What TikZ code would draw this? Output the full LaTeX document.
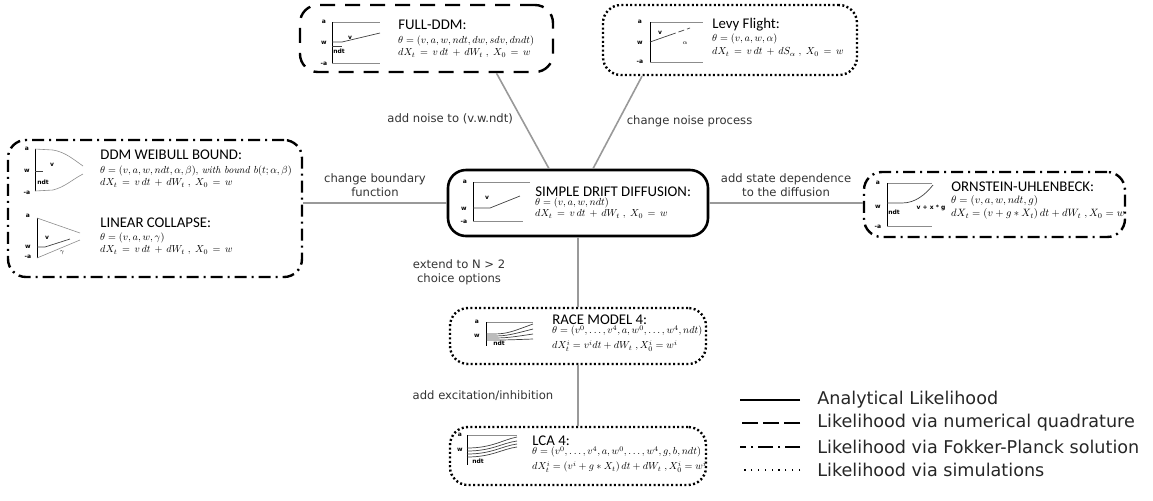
\RequirePackage{fix-cm}
\documentclass[tikz,border=0pt]{standalone}
\usepackage{fontspec}
\newfontfamily\titlefont{Carlito}
\newfontfamily\lblfont{DejaVu Sans}
\usetikzlibrary{positioning}

\tikzset{
	model/.style = {draw, rounded corners = 9pt, line width = 1.2pt, inner sep = 0},
	analytic/.style = {solid},
	quadrature/.style = {dash pattern = on 7.5pt off 5pt},
	fokker/.style = {dash pattern = on 6pt off 2.5pt on 1pt off 2.5pt},
	simulation/.style = {dash pattern = on 1pt off 1.2pt},
	link/.style = {black!40, line width = 0.8pt},
	lbl/.style = {font = \lblfont\fontsize{5.8}{6.8}\selectfont, align = center, text = black!80, inner sep = 1pt},
	title/.style = {font = \titlefont\fontsize{7.4}{8}\selectfont, anchor = west, inner sep = 0},
	form/.style = {font = \fontsize{10}{11}\selectfont, scale = 0.51, transform shape, anchor = west, inner sep = 0},
	tick/.style = {font = \lblfont\bfseries\fontsize{3}{3}\selectfont, inner sep = 0},
	axis/.style = {black!45, line width = 0.3pt},
	frame/.style = {black, line width = 0.35pt},
	traj/.style = {black!75, line width = 0.35pt},
	legtext/.style = {font = \lblfont\fontsize{8.8}{9.5}\selectfont, anchor = west, inner sep = 0, text = black!85}
}

\begin{document}
\begin{tikzpicture}[x = 0.5pt, y = -0.5pt]

	\useasboundingbox (0, 0) rectangle (1153, 500);

	% Model boxes

	\node [model, quadrature, minimum width = 126.5pt, minimum height = 33.5pt] (full) at (426.5, 38.5) {};
	\node [model, simulation, minimum width = 127pt, minimum height = 35pt] (levy) at (730, 40) {};
	\node [model, fokker, minimum width = 147pt, minimum height = 68.5pt] (left) at (155, 208.5) {};
	\node [model, analytic, line width = 1.3pt, minimum width = 130pt, minimum height = 33pt] (simple) at (578, 203) {};
	\node [model, fokker, minimum width = 130.5pt, minimum height = 32.5pt] (ou) at (994.5, 204.5) {};
	\node [model, simulation, minimum width = 128pt, minimum height = 28pt] (race) at (578, 336) {};
	\node [model, simulation, minimum width = 128pt, minimum height = 29pt] (lca) at (578, 456) {};

	% Box texts

	\node [title] (full-title) at (398, 25) {FULL-DDM:};
	\node [form] (full-par) at (398, 41) {$\theta = (v, a, w, ndt, dw, sdv, dndt)$};
	\node [form] (full-sde) at (398, 53) {$dX_t \,=\, v\,dt \,+\, dW_t \;,\; X_0 \,=\, w$};

	\node [title] (levy-title) at (712, 25) {Levy Flight:};
	\node [form] (levy-par) at (712, 39) {$\theta = (v, a, w, \alpha)$};
	\node [form] (levy-sde) at (712, 52) {$dX_t \,=\, v\,dt \,+\, dS_\alpha \;,\; X_0 \,=\, w$};

	\node [title] (weib-title) at (100, 155) {DDM WEIBULL BOUND:};
	\node [form] (weib-par) at (100, 171) {$\theta = (v, a, w, ndt, \alpha, \beta)$, \textit{with bound} $b(t; \alpha, \beta)$};
	\node [form] (weib-sde) at (100, 183) {$dX_t \,=\, v\,dt \,+\, dW_t \;,\; X_0 \,=\, w$};

	\node [title] (lin-title) at (100, 223) {LINEAR COLLAPSE:};
	\node [form] (lin-par) at (100, 238) {$\theta = (v, a, w, \gamma)$};
	\node [form] (lin-sde) at (100, 250) {$dX_t \,=\, v\,dt \,+\, dW_t \;,\; X_0 \,=\, w$};

	\node [title] (simple-title) at (535, 192) {SIMPLE DRIFT DIFFUSION:};
	\node [form] (simple-par) at (535, 203) {$\theta = (v, a, w, ndt)$};
	\node [form] (simple-sde) at (535, 214) {$dX_t \,=\, v\,dt \,+\, dW_t \;,\; X_0 \,=\, w$};

	\node [title] (ou-title) at (951, 187) {ORNSTEIN-UHLENBECK:};
	\node [form, scale = 1.04] (ou-par) at (951, 201) {$\theta = (v, a, w, ndt, g)$};
	\node [form, scale = 1.04] (ou-sde) at (951, 214) {$dX_t = (v + g * X_t)\,dt + dW_t \;, X_0 = w$};

	\node [title] (race-title) at (552, 320) {RACE MODEL 4:};
	\node [form] (race-par) at (552, 331) {$\theta = (v^0, \ldots, v^4, a, w^0, \ldots, w^4, ndt)$};
	\node [form] (race-sde) at (552, 346) {$dX_t^i = v^i dt + dW_t \;, X_0^i = w^i$};

	\node [title] (lca-title) at (532, 441) {LCA 4:};
	\node [form] (lca-par) at (532, 452) {$\theta = (v^0, \ldots, v^4, a, w^0, \ldots, w^4, g, b, ndt)$};
	\node [form] (lca-sde) at (532, 467) {$dX_t^i = (v^i + g * X_t)\,dt + dW_t \;, X_0^i = w^i$};

	% Mini plots

	\begin{scope}[shift = {(332, 22)}]
		\draw [axis] (0, 0) -- (48, 0);
		\draw [axis] (0, 41) -- (48, 41);
		\draw [frame] (0, 0) -- (0, 41);
		\draw [traj] (0, 20) -- (10, 20) -- (48, 11);
		\draw [traj] (0, 24) -- (10, 24);
		\node [tick] (full-a) at (-8, 0) {a};
		\node [tick] (full-w) at (-8, 21) {w};
		\node [tick] (full-ma) at (-8, 42) {-a};
		\node [tick] (full-v) at (18, 16) {v};
		\node [tick] (full-ndt) at (7, 29) {ndt};
	\end{scope}

	\begin{scope}[shift = {(650, 22)}]
		\draw [axis] (0, 0) -- (53, 0);
		\draw [axis] (0, 40) -- (53, 40);
		\draw [frame] (0, 0) -- (0, 40);
		\draw [traj] (0, 20) -- (20, 13);
		\draw [traj, dash pattern = on 3pt off 1.5pt] (20, 13) -- (40, 6);
		\node [tick] (levy-a) at (-10, 0) {a};
		\node [tick] (levy-w) at (-10, 21) {w};
		\node [tick] (levy-ma) at (-10, 40) {-a};
		\node [tick] (levy-v) at (10, 11) {v};
		\node [tick] (levy-s) at (35, 21) {$\alpha$};
	\end{scope}

	\begin{scope}[shift = {(35, 149)}]
		\draw [frame] (0, 0) -- (0, 42);
		\draw [axis] (0, 0) -- (18, 1) .. controls (30, 3) and (38, 10) .. (48, 17);
		\draw [axis] (0, 42) -- (18, 41) .. controls (30, 38) and (38, 30) .. (48, 25);
		\draw [traj] (0, 22) -- (8, 22);
		\node [tick] (weib-a) at (-8, 0) {a};
		\node [tick] (weib-w) at (-8, 22) {w};
		\node [tick] (weib-ma) at (-8, 44) {-a};
		\node [tick] (weib-v) at (17, 16) {v};
		\node [tick] (weib-ndt) at (8, 33) {ndt};
	\end{scope}

	\begin{scope}[shift = {(37, 218)}]
		\draw [frame] (0, 0) -- (0, 40);
		\draw [axis] (0, 0) -- (43, 15);
		\draw [axis] (0, 40) -- (43, 22);
		\draw [traj] (0, 29) -- (8, 29) -- (33, 21);
		\node [tick] (lin-a) at (-9, -2) {a};
		\node [tick] (lin-w) at (-9, 29) {w};
		\node [tick] (lin-ma) at (-9, 39) {-a};
		\node [tick] (lin-v) at (10, 20) {v};
		\node [tick] (lin-g) at (25, 35) {$\gamma$};
	\end{scope}

	\begin{scope}[shift = {(473, 182)}]
		\draw [axis] (0, 0) -- (57, 0);
		\draw [axis] (0, 39) -- (50, 39);
		\draw [frame] (0, 0) -- (0, 39);
		\draw [traj] (0, 26) -- (17, 26) -- (47, 14);
		\node [tick] (simple-a) at (-8, 0) {a};
		\node [tick] (simple-w) at (-9, 27) {w};
		\node [tick] (simple-ma) at (-9, 40) {-a};
		\node [tick] (simple-v) at (14, 16) {v};
	\end{scope}

	\begin{scope}[shift = {(887, 183)}]
		\draw [axis] (0, 0) -- (45, 0);
		\draw [axis] (0, 43) -- (45, 43);
		\draw [frame] (0, 0) -- (0, 43);
		\draw [traj] (0, 20) -- (15, 20) .. controls (28, 20) and (38, 12) .. (46, 2);
		\node [tick] (ou-a) at (-9, 0) {a};
		\node [tick] (ou-w) at (-9, 24) {w};
		\node [tick] (ou-ma) at (-9, 44) {-a};
		\node [tick] (ou-ndt) at (7, 29) {ndt};
		\node [tick] (ou-v) at (44, 25) {v + x * g};
	\end{scope}

	\begin{scope}[shift = {(486, 322)}]
		\draw [axis] (0, 0) -- (47, 0);
		\draw [frame] (0, 0) -- (0, 24);
		\draw [traj] (0, 12) .. controls (20, 12) .. (47, 2);
		\draw [traj] (0, 14) .. controls (20, 14) .. (47, 7);
		\draw [traj] (0, 16) .. controls (20, 16) .. (47, 12);
		\draw [traj] (0, 18) .. controls (20, 18) .. (47, 17);
		\node [tick] (race-a) at (-9, 0) {a};
		\node [tick] (race-w) at (-9, 14) {w};
		\node [tick] (race-ndt) at (13, 21) {ndt};
	\end{scope}

	\begin{scope}[shift = {(467, 435)}]
		\draw [axis] (0, 0) -- (50, 0);
		\draw [frame] (0, 0) -- (0, 30);
		\draw [traj] (0, 13) .. controls (25, 13) and (35, 5) .. (50, 2);
		\draw [traj] (0, 16) .. controls (25, 16) and (35, 8) .. (50, 6);
		\draw [traj] (0, 19) .. controls (25, 19) and (35, 11) .. (50, 9);
		\draw [traj] (0, 22) .. controls (25, 22) and (35, 14) .. (50, 12);
		\node [tick] (lca-a) at (-7, 0) {a};
		\node [tick] (lca-w) at (-7, 15) {w};
		\node [tick] (lca-ndt) at (11, 26) {ndt};
	\end{scope}

	% Connectors

	\draw [link] ([xshift = 35pt] full.south) -- ([xshift = -14.5pt] simple.north)
		node [lbl, pos = 0.48, left = 3pt] (noise-lbl) {add noise to (v.w.ndt)};
	\draw [link] ([xshift = -44pt] levy.south) -- ([xshift = 7.5pt] simple.north)
		node [lbl, pos = 0.49, right = 3pt] (levy-lbl) {change noise process};
	\draw [link] (simple.west -| left.east) -- (simple.west)
		node [lbl, midway, above = 2pt] (bound-lbl) {change boundary\\function};
	\draw [link] (simple.east) -- (simple.east -| ou.west)
		node [lbl, midway, above = 2pt] (state-lbl) {add state dependence\\to the diffusion};
	\draw [link] (simple.south) -- (race.north)
		node [lbl, midway, left = 35pt] (choice-lbl) {extend to N > 2\\choice options};
	\draw [link] (race.south) -- (lca.north)
		node [lbl, midway, left = 11pt] (lca-lbl) {add excitation/inhibition};

	% Legend

	\node [legtext] (leg-an) at (817, 400) {Analytical Likelihood};
	\node [legtext] (leg-nq) at (817, 423) {Likelihood via numerical quadrature};
	\node [legtext] (leg-fp) at (817, 447) {Likelihood via Fokker-Planck solution};
	\node [legtext] (leg-sim) at (817, 470) {Likelihood via simulations};
	\draw [line width = 1.2pt] ([xshift = -8.5pt] leg-an.west) -- ++(-30pt, 0);
	\draw [line width = 1.2pt, dash pattern = on 8pt off 2.5pt] ([xshift = -8.5pt] leg-nq.west) -- ++(-30pt, 0);
	\draw [line width = 1.2pt, dash pattern = on 7.5pt off 2.5pt on 1pt off 2.5pt] ([xshift = -8.5pt] leg-fp.west) -- ++(-30pt, 0);
	\draw [line width = 0.6pt, dash pattern = on 0.6pt off 2.8pt] ([xshift = -8.5pt] leg-sim.west) -- ++(-30pt, 0);

\end{tikzpicture}
\end{document}
